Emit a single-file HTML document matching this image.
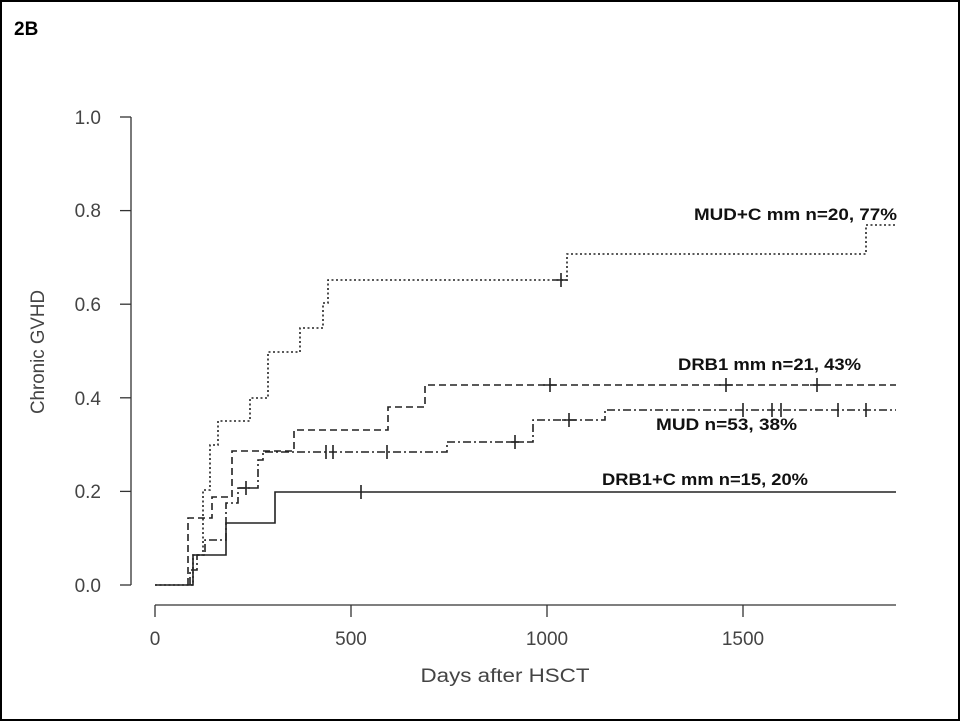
<!DOCTYPE html>
<html><head><style>
body{margin:0;background:#fff}
svg{display:block}
text{font-family:"Liberation Sans",sans-serif}
</style></head><body>
<svg width="961" height="721" viewBox="0 0 961 721" xmlns="http://www.w3.org/2000/svg">
<rect x="1" y="1" width="958" height="719" fill="#fff" stroke="#000" stroke-width="2"/>
<text x="14" y="35" font-size="19" font-weight="bold">2B</text>
<g stroke="#333" stroke-width="1.3" fill="none">
<line x1="131" y1="117" x2="131" y2="585"/>
<line x1="120" y1="117" x2="131" y2="117"/>
<line x1="120" y1="210.6" x2="131" y2="210.6"/>
<line x1="120" y1="304.2" x2="131" y2="304.2"/>
<line x1="120" y1="397.8" x2="131" y2="397.8"/>
<line x1="120" y1="491.4" x2="131" y2="491.4"/>
<line x1="120" y1="585" x2="131" y2="585"/>
<line x1="155" y1="605" x2="896" y2="605"/>
<line x1="155" y1="605" x2="155" y2="617"/>
<line x1="351" y1="605" x2="351" y2="617"/>
<line x1="547" y1="605" x2="547" y2="617"/>
<line x1="743" y1="605" x2="743" y2="617"/>
</g>
<g font-size="19" fill="#444" text-anchor="end">
<text x="101" y="124">1.0</text>
<text x="101" y="217">0.8</text>
<text x="101" y="311">0.6</text>
<text x="101" y="405">0.4</text>
<text x="101" y="498">0.2</text>
<text x="101" y="592">0.0</text>
</g>
<g font-size="19" fill="#444" text-anchor="middle">
<text x="155" y="645">0</text>
<text x="351" y="645">500</text>
<text x="547" y="645">1000</text>
<text x="743" y="645">1500</text>
<text x="505" y="682" textLength="169" lengthAdjust="spacingAndGlyphs">Days after HSCT</text>
<text transform="translate(44,352) rotate(-90)" textLength="124" lengthAdjust="spacingAndGlyphs">Chronic GVHD</text>
</g>
<g fill="none" stroke="#222" stroke-width="1.6">
<path d="M155 585H193V555H226V523H275V492H896"/>
<path d="M361 485V499"/>
<path stroke-dasharray="2 2.5" d="M155 585H193V555H203V490H210V445H218V421H250V398H268V352H300V328H323V303H328V280H567V254H866V225H897"/>
<path d="M561 273V287M554 280H568"/>
<path stroke-dasharray="7 4" d="M188 585V518H212V497H232V451H294V430H388V407H425V385H896"/>
<path d="M550 378V392M726 378V392M817 378V392M543 385H557M719 385H733M810 385H824"/>
<path stroke-dasharray="8 3 2 3" d="M190 585V570H197V555H205V540H226V503H238V488H258V460H263V452H447V442H533V420H605V410H896"/>
<path d="M246 481V495M239 488H253M326 445V459M333 445V459M387 445V459M515 435V449M508 442H522M569 413V427M562 420H576M743 403V417M772 403V417M781 403V417M838 403V417M866 403V417"/>
</g>
<g font-size="17" font-weight="bold" fill="#111">
<text x="694" y="220" textLength="203" lengthAdjust="spacingAndGlyphs">MUD+C mm n=20, 77%</text>
<text x="678" y="370" textLength="183" lengthAdjust="spacingAndGlyphs">DRB1 mm n=21, 43%</text>
<text x="656" y="430" textLength="141" lengthAdjust="spacingAndGlyphs">MUD n=53, 38%</text>
<text x="602" y="485" textLength="206" lengthAdjust="spacingAndGlyphs">DRB1+C mm n=15, 20%</text>
</g>
</svg>
</body></html>
